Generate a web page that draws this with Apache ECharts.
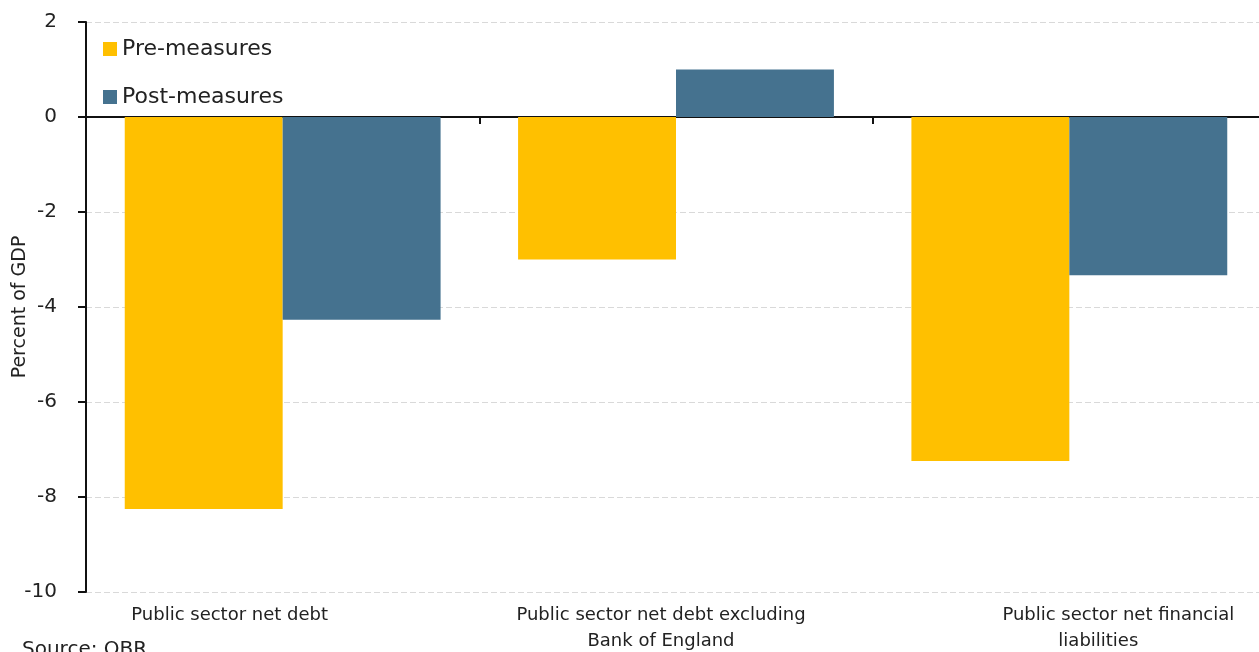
<!DOCTYPE html>
<html><head><meta charset="utf-8">
<script src="https://cdn.jsdelivr.net/npm/echarts@6/dist/echarts.min.js"></script>
<style>html,body{margin:0;padding:0;background:#fff}#c{width:1259px;height:652px}</style>
</head><body><div id="c"></div>
<script>
const categories = ["Public sector net debt", "Public sector net debt excluding\nBank of England", "Public sector net financial\nliabilities"];
const preMeasures = [-8.25, -3.0, -7.24];
const postMeasures = [-4.27, 1.0, -3.33];
const seriesNames = ["Pre-measures", "Post-measures"];
const sourceText = "Source: OBR";

const chart = echarts.init(document.getElementById('c'));
const FONT = 'DejaVu Sans';
const base = {fontFamily: FONT, fontSize: 18, color: '#222', lineHeight: 26};
const labelRich = {
  c0: Object.assign({}, base, {padding: [0, 106, 0, 0]}),
  c1: Object.assign({}, base, {padding: [0, 30, 0, 0]}),
  c2a: Object.assign({}, base, {padding: [0, 0, 0, 98]}),
  c2b: Object.assign({}, base, {padding: [0, 0, 0, 58]})
};
chart.setOption({
  animation: false,
  title: {text: sourceText, left: 17, top: 635, textStyle: {fontFamily: FONT, fontSize: 20, fontWeight: 'normal', color: '#222'}},
  legend: {
    orient: 'vertical', left: 98, top: 33, itemGap: 26,
    icon: 'rect', itemWidth: 14, itemHeight: 14, itemSpacing: 6,
    textStyle: {fontFamily: FONT, fontSize: 22, color: '#222'},
    data: seriesNames
  },
  grid: {left: 86, right: -7, top: 22, bottom: 60, containLabel: false, outerBoundsMode: 'none'},
  xAxis: [
    {type: 'category', data: categories, position: 'bottom',
     axisLine: {show: false, onZero: false}, axisTick: {show: false},
     axisLabel: {margin: 10, interval: 0,
       formatter: function (v, i) {
         if (i === 0) return '{c0|' + v + '}';
         if (i === 1) return v.split('\n').map(s => '{c1|' + s + '}').join('\n');
         const p = v.split('\n');
         return '{c2a|' + p[0] + '}\n{c2b|' + p[1] + '}';
       },
       rich: labelRich}},
    {type: 'category', data: categories, position: 'bottom',
     axisLine: {show: true, onZero: true, lineStyle: {color: '#111', width: 2}},
     axisTick: {show: true, length: 7, lineStyle: {color: '#111', width: 2}},
     axisLabel: {show: false}}
  ],
  yAxis: {
    type: 'value', min: -10, max: 2, interval: 2,
    name: 'Percent of GDP', nameLocation: 'middle', nameGap: 56, nameRotate: 90,
    nameMoveOverlap: false,
    nameTextStyle: {fontFamily: FONT, fontSize: 19, color: '#222'},
    axisLine: {show: true, lineStyle: {color: '#111', width: 2}},
    axisTick: {show: true, length: 8, lineStyle: {color: '#111', width: 2}},
    axisLabel: {margin: 29, fontFamily: FONT, fontSize: 20, color: '#222'},
    splitLine: {show: true, lineStyle: {color: '#d9d9d9', type: [6, 3], width: 1}}
  },
  series: [
    {name: seriesNames[0], type: 'bar', data: preMeasures, xAxisIndex: 0,
     itemStyle: {color: '#FFC000'}, barGap: '0%', barCategoryGap: '19.7%'},
    {name: seriesNames[1], type: 'bar', data: postMeasures, xAxisIndex: 0,
     itemStyle: {color: '#45728F'}, barGap: '0%', barCategoryGap: '19.7%', z: 2}
  ]
});
</script></body></html>
